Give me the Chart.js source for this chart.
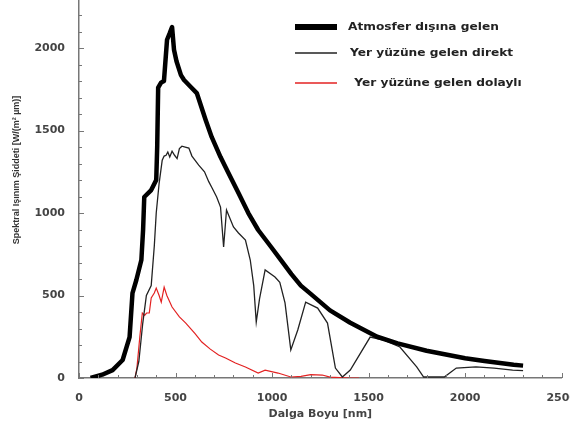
<!DOCTYPE html>
<html>
<head>
<meta charset="utf-8">
<script src="https://cdn.jsdelivr.net/npm/chart.js@4.4.0/dist/chart.umd.min.js"></script>
<style>
html,body{margin:0;padding:0;background:#fff;overflow:hidden;width:570px;height:428px;}
#wrap{position:absolute;left:0;top:0;width:583px;height:428px;}
</style>
</head>
<body>
<div id="wrap"><canvas id="c" width="583" height="428"></canvas></div>
<script>
// Series labels
const seriesLabels = ["Atmosfer dışına gelen", "Yer yüzüne gelen direkt", " Yer yüzüne gelen dolaylı"];
const xTitle = "Dalga Boyu [nm]";
const yTitle = "Spektral Işınım Şiddeti [W/(m² µm)]";
const xTickLabels = [0, 500, 1000, 1500, 2000, 2500];
const yTickLabels = [0, 500, 1000, 1500, 2000];

// Atmosfer dışına gelen (extraterrestrial) : wavelength nm
const atmX = [60,120,174,226,262,277,297,323,332,338,374,400,405,410,425,440,456,470,482,492,505,528,544,579,610,656,687,733,774,826,877,928,995,1046,1100,1149,1200,1300,1405,1544,1650,1800,2000,2100,2251,2300];
const atmY = [0,20,48,109,248,515,594,715,900,1097,1139,1200,1400,1760,1790,1800,2050,2090,2127,1990,1920,1836,1806,1764,1727,1564,1461,1339,1242,1121,1000,897,794,715,630,560,510,410,335,250,210,165,120,103,80,75];

// Yer yüzüne gelen direkt
const dirX = [290,310,330,349,374,390,400,415,431,441,451,460,470,482,495,508,520,533,550,569,585,620,650,672,690,713,733,749,764,800,826,862,887,905,918,935,964,1015,1040,1067,1097,1133,1174,1236,1287,1328,1364,1405,1508,1579,1662,1749,1785,1892,1954,2056,2150,2246,2300];
const dirY = [0,100,330,500,560,800,1000,1180,1320,1345,1350,1370,1340,1375,1350,1330,1390,1405,1400,1394,1345,1290,1250,1190,1150,1097,1036,794,1018,915,879,836,715,560,339,480,655,612,580,455,170,291,460,424,333,60,6,48,248,230,188,67,6,6,60,67,60,48,45];

// Yer yüzüne gelen dolaylı
const difX = [290,300,315,328,340,350,364,374,390,400,415,426,441,455,482,520,553,600,636,680,723,759,810,862,928,964,1031,1097,1150,1200,1260,1300,1400,1450];
const difY = [0,60,250,394,380,394,394,485,515,545,500,460,551,500,430,370,333,270,218,175,139,121,91,67,30,48,30,6,10,20,18,5,0,0];

const toPts = (xs, ys) => xs.map((x, i) => ({x: x, y: ys[i]}));

const FONT = "'DejaVu Sans', sans-serif";

function stepValues(max, step) {
  const out = [];
  for (let v = 0; v <= max; v += step) out.push(v);
  return out;
}

const decorPlugin = {
  id: 'decor',
  afterDraw(chart) {
    const ctx = chart.ctx;
    const xs = chart.scales.x, ys = chart.scales.y;
    const area = chart.chartArea;
    ctx.save();
    // inward minor/major ticks
    ctx.strokeStyle = '#777';
    ctx.lineWidth = 1;
    ys.ticks.forEach(t => {
      const py = Math.round(ys.getPixelForValue(t.value)) + 0.5;
      const len = (t.value % 500 === 0) ? 5 : 3;
      ctx.beginPath(); ctx.moveTo(area.left, py); ctx.lineTo(area.left + len, py); ctx.stroke();
    });
    xs.ticks.forEach(t => {
      const px = Math.round(xs.getPixelForValue(t.value)) + 0.5;
      const len = (t.value % 500 === 0) ? 5 : 3;
      ctx.beginPath(); ctx.moveTo(px, area.bottom); ctx.lineTo(px, area.bottom - len); ctx.stroke();
    });
    // y title
    ctx.fillStyle = '#333';
    ctx.font = "bold 9px 'Liberation Sans', sans-serif";
    ctx.textAlign = 'center';
    ctx.textBaseline = 'middle';
    ctx.translate(17, 170);
    ctx.rotate(-Math.PI / 2);
    ctx.fillText(yTitle, 0, 0);
    ctx.restore();

    // legend
    const rows = [
      {y: 27, tx: 348},
      {y: 53, tx: 350},
      {y: 83, tx: 350}
    ];
    chart.data.datasets.forEach((ds, i) => {
      const r = rows[i];
      ctx.save();
      ctx.strokeStyle = ds.borderColor;
      ctx.lineWidth = i === 0 ? 6 : ds.borderWidth + 0.3;
      ctx.beginPath(); ctx.moveTo(295, r.y); ctx.lineTo(337, r.y); ctx.stroke();
      ctx.fillStyle = '#222';
      ctx.font = "bold 10.5px " + FONT;
      ctx.textAlign = 'left';
      ctx.textBaseline = 'middle';
      ctx.translate(r.tx, r.y);
      ctx.scale(1.16, 1);
      ctx.fillText(ds.label, 0, 0);
      ctx.restore();
    });
  }
};

const showLabel = (v, list) => {
  const r = Math.round(v);
  return (Math.abs(v - r) < 0.5 && list.includes(r)) ? String(r) : '';
};

new Chart(document.getElementById('c'), {
  type: 'line',
  data: {
    datasets: [
      {label: seriesLabels[0], data: toPts(atmX, atmY), borderColor: '#000', borderWidth: 4.5, pointRadius: 0, tension: 0, fill: false, borderJoinStyle: 'round'},
      {label: seriesLabels[1], data: toPts(dirX, dirY), borderColor: '#222', borderWidth: 1.3, pointRadius: 0, tension: 0, fill: false},
      {label: seriesLabels[2], data: toPts(difX, difY), borderColor: '#e32222', borderWidth: 1.2, pointRadius: 0, tension: 0, fill: false}
    ]
  },
  options: {
    responsive: false,
    animation: false,
    layout: {padding: 0},
    plugins: {legend: {display: false}, tooltip: {enabled: false}},
    scales: {
      x: {
        type: 'linear', min: 0, max: 2500,
        grid: {display: false},
        border: {display: true, color: '#777', width: 1.5},
        ticks: {
          autoSkip: false, maxRotation: 0, padding: 6,
          color: '#444', font: {family: FONT, size: 11, weight: 'bold'},
          callback: v => showLabel(v, xTickLabels)
        },
        afterBuildTicks: s => { s.ticks = stepValues(2500, 100).map(v => ({value: v})); },
        title: {display: true, text: xTitle, color: '#444', font: {family: FONT, size: 11, weight: 'bold'}, padding: {top: 0, bottom: 7}},
        afterFit: s => { s.height = 50; }
      },
      y: {
        type: 'linear', min: 0, max: 2291,
        grid: {display: false},
        border: {display: true, color: '#777', width: 1.5},
        ticks: {
          autoSkip: false, padding: 6,
          color: '#444', font: {family: FONT, size: 11, weight: 'bold'},
          callback: v => showLabel(v, yTickLabels)
        },
        afterBuildTicks: s => { s.ticks = stepValues(2200, 100).map(v => ({value: v})); },
        afterFit: s => { s.width = 79; s.paddingTop = 0; s.paddingBottom = 0; }
      }
    }
  },
  plugins: [decorPlugin]
});
</script>
</body>
</html>
